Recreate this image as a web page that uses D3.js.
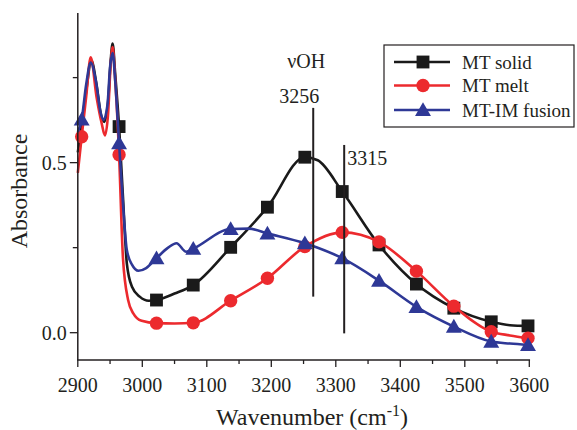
<!DOCTYPE html>
<html>
<head>
<meta charset="utf-8">
<script src="https://cdn.jsdelivr.net/npm/d3@7/dist/d3.min.js"></script>
<style>
  html, body { margin: 0; padding: 0; background: #fff; }
  svg { display: block; font-family: "Liberation Serif", "Times New Roman", serif; }
</style>
</head>
<body>
<svg id="chart" width="577" height="430"></svg>
<script>
// ---------------- data ----------------
const seriesNames = ["MT solid", "MT melt", "MT-IM fusion"];
const seriesColors = ["#1a1a1a", "#ec2a2e", "#2e3896"];

// marker positions (wavenumber, cm-1)
const markerW = [2906, 2964, 3022, 3079, 3137, 3194, 3252, 3310, 3367, 3425, 3483, 3541, 3598];
const solidMarks  = [null, 0.606, 0.096, 0.140, 0.251, 0.369, 0.516, 0.415, 0.258, 0.143, 0.072, 0.032, 0.020];
const meltMarks   = [0.576, 0.523, 0.028, 0.029, 0.094, 0.160, 0.253, 0.295, 0.267, 0.181, 0.078, 0.003, -0.016];
const fusionMarks = [0.627, 0.557, 0.219, 0.247, 0.305, 0.292, 0.263, 0.219, 0.153, 0.076, 0.018, -0.026, -0.036];

// additional points
const solidExtraW  = [2900, 2906, 2913, 2921, 2929, 2936, 2941, 2947, 2951, 2954, 2958, 2970, 2976, 2984, 2996, 3010, 3050, 3272, 3570];
const solidExtraA  = [0.53, 0.61, 0.71, 0.80, 0.73, 0.64, 0.62, 0.68, 0.80, 0.85, 0.76, 0.40, 0.204, 0.135, 0.106, 0.094, 0.115, 0.507, 0.022];
const meltExtraW   = [2900, 2913, 2920, 2929, 2937, 2942, 2947, 2951, 2954, 2958, 2970, 2978, 2986, 2999, 3050, 3570];
const meltExtraA   = [0.47, 0.694, 0.81, 0.694, 0.616, 0.58, 0.645, 0.79, 0.84, 0.743, 0.22, 0.096, 0.057, 0.035, 0.027, -0.008];
const fusionExtraW = [2900, 2913, 2920, 2928, 2935, 2940, 2946, 2950, 2954, 2958, 2970, 2976, 2984, 2994, 3006, 3040, 3053, 3068, 3165, 3570];
const fusionExtraA = [0.59, 0.73, 0.794, 0.74, 0.65, 0.626, 0.67, 0.78, 0.822, 0.74, 0.38, 0.243, 0.20, 0.182, 0.19, 0.25, 0.263, 0.238, 0.306, -0.032];

// axis ticks
const xTickLabels = [2900, 3000, 3100, 3200, 3300, 3400, 3500, 3600];
const xMinorTicks = [2950, 3050, 3150, 3250, 3350, 3450, 3550];
const yTickLabels = [0.0, 0.5];
const yMinorTicks = [0.25, 0.75];

// peak annotations: [wavenumber, bottom, top]
const peakLines = [[3265, 0.106, 0.661], [3313, -0.002, 0.552]];
const peakLabels = ["3256", "3315"];

// ---------------- layout ----------------
const svg = d3.select("#chart");
const x = d3.scaleLinear().domain([2900, 3600]).range([77.8, 529.3]);
const y = d3.scaleLinear().domain([-0.0803, 0.94]).range([360, 13]);
const ink = "#231f20";

function buildCurve(extraW, extraA, marks) {
  const pts = extraW.map((w, i) => [w, extraA[i]]);
  markerW.forEach((w, i) => { if (marks[i] !== null) pts.push([w, marks[i]]); });
  pts.sort((a, b) => a[0] - b[0]);
  // dedupe identical wavenumbers
  return pts.filter((p, i) => i === 0 || p[0] !== pts[i - 1][0]);
}
const curves = [
  buildCurve(solidExtraW, solidExtraA, solidMarks),
  buildCurve(meltExtraW, meltExtraA, meltMarks),
  buildCurve(fusionExtraW, fusionExtraA, fusionMarks)
];
const marks = [solidMarks, meltMarks, fusionMarks];

const line = d3.line().x(d => x(d[0])).y(d => y(d[1])).curve(d3.curveMonotoneX);

const plot = svg.append("g");
const symbols = [d3.symbolSquare, d3.symbolCircle, d3.symbolTriangle];
const symSize = [165, 140, 110];

function drawMarker(g, idx, cx, cy) {
  let dy = 0;
  if (idx === 2) dy = 1.5;
  g.append("path")
    .attr("d", d3.symbol().type(symbols[idx]).size(symSize[idx])())
    .attr("transform", `translate(${cx},${cy + dy})`)
    .attr("fill", seriesColors[idx]);
}

curves.forEach((c, i) => {
  plot.append("path").datum(c)
    .attr("d", line)
    .attr("fill", "none")
    .attr("stroke", seriesColors[i])
    .attr("stroke-width", 2.6)
    .attr("stroke-linejoin", "round");
  markerW.forEach((w, j) => {
    const v = marks[i][j];
    if (v !== null) drawMarker(plot, i, x(w), y(v));
  });
});

// peak lines
peakLines.forEach(p => {
  svg.append("line")
    .attr("x1", x(p[0])).attr("x2", x(p[0]))
    .attr("y1", y(p[1])).attr("y2", y(p[2]))
    .attr("stroke", ink).attr("stroke-width", 2);
});
svg.append("text").attr("x", x(3265) - 7).attr("y", 68)
  .attr("text-anchor", "middle").attr("font-size", 20).attr("fill", ink).text("νOH");
svg.append("text").attr("x", x(3265) - 14).attr("y", 103)
  .attr("text-anchor", "middle").attr("font-size", 20).attr("fill", ink).text(peakLabels[0]);
svg.append("text").attr("x", x(3313) + 3).attr("y", 165)
  .attr("text-anchor", "start").attr("font-size", 20).attr("fill", ink).text(peakLabels[1]);

// ---------------- axes ----------------
const axes = svg.append("g");
axes.append("line").attr("x1", x(2900)).attr("x2", x(2900)).attr("y1", y(-0.0803)).attr("y2", y(0.94))
  .attr("stroke", ink).attr("stroke-width", 1.5);
axes.append("line").attr("x1", x(2900) - 0.75).attr("x2", x(3600) + 0.75).attr("y1", y(-0.0803)).attr("y2", y(-0.0803))
  .attr("stroke", ink).attr("stroke-width", 1.5);

const x0 = y(-0.0803);
xTickLabels.forEach(t => {
  axes.append("line").attr("x1", x(t)).attr("x2", x(t)).attr("y1", x0).attr("y2", x0 + 7)
    .attr("stroke", ink).attr("stroke-width", 1.3);
  axes.append("text").attr("x", x(t)).attr("y", 391.5).attr("text-anchor", "middle")
    .attr("font-size", 20).attr("fill", ink).text(t);
});
xMinorTicks.forEach(t => {
  axes.append("line").attr("x1", x(t)).attr("x2", x(t)).attr("y1", x0).attr("y2", x0 + 4)
    .attr("stroke", ink).attr("stroke-width", 1.3);
});
const y0 = x(2900);
yTickLabels.forEach(t => {
  axes.append("line").attr("x1", y0).attr("x2", y0 - 8).attr("y1", y(t)).attr("y2", y(t))
    .attr("stroke", ink).attr("stroke-width", 1.3);
  axes.append("text").attr("x", y0 - 11).attr("y", y(t) + 7).attr("text-anchor", "end")
    .attr("font-size", 20).attr("fill", ink).text(d3.format(".1f")(t));
});
yMinorTicks.forEach(t => {
  axes.append("line").attr("x1", y0).attr("x2", y0 - 5).attr("y1", y(t)).attr("y2", y(t))
    .attr("stroke", ink).attr("stroke-width", 1.3);
});

// axis titles
const xt = axes.append("text").attr("x", 312).attr("y", 425).attr("text-anchor", "middle")
  .attr("font-size", 24).attr("fill", ink);
xt.append("tspan").text("Wavenumber (cm");
xt.append("tspan").attr("font-size", 16).attr("dy", -9).text("-1");
xt.append("tspan").attr("dy", 9).text(")");

axes.append("text").attr("transform", "translate(27,191) rotate(-90)")
  .attr("text-anchor", "middle").attr("font-size", 24).attr("fill", ink).text("Absorbance");

// ---------------- legend ----------------
const lg = svg.append("g");
lg.append("rect").attr("x", 384).attr("y", 45).attr("width", 190).attr("height", 82)
  .attr("fill", "#fff").attr("stroke", ink).attr("stroke-width", 1.2);
const rows = [62, 85.5, 110];
seriesNames.forEach((name, i) => {
  lg.append("line").attr("x1", 394).attr("x2", 450).attr("y1", rows[i]).attr("y2", rows[i])
    .attr("stroke", seriesColors[i]).attr("stroke-width", 2.4);
  drawMarker(lg, i, 423, rows[i]);
  lg.append("text").attr("x", 462).attr("y", rows[i] + 6.5).attr("font-size", 19)
    .attr("fill", ink).text(name);
});
</script>
</body>
</html>
